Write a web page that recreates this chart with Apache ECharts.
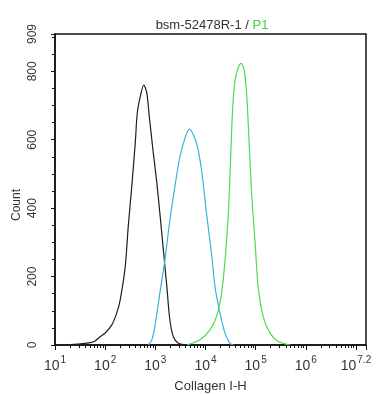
<!DOCTYPE html>
<html>
<head>
<meta charset="utf-8">
<script src="https://cdn.jsdelivr.net/npm/echarts@6/dist/echarts.min.js"></script>
<style>
html,body{margin:0;padding:0;background:#fff;}
#chart{width:380px;height:394px;}
</style>
</head>
<body>
<div id="chart"></div>
<script>
// x values are log10(Collagen I-H intensity), y values are counts
const blackX = [1.24, 1.36, 1.55, 1.70, 1.80, 1.90, 2.00, 2.13, 2.23, 2.30, 2.40, 2.46, 2.53, 2.60, 2.64, 2.70, 2.77, 2.83, 2.88, 2.96, 3.03, 3.09, 3.16, 3.23, 3.29, 3.36, 3.46, 3.63];
const blackY = [0, 2, 4, 7, 12, 24, 35, 58, 93, 132, 229, 346, 463, 590, 678, 726, 760, 737, 667, 561, 474, 386, 278, 170, 73, 24, 5, 0];
const blueX = [2.86, 2.93, 2.99, 3.09, 3.19, 3.29, 3.39, 3.49, 3.59, 3.68, 3.76, 3.84, 3.93, 4.02, 4.12, 4.19, 4.29, 4.39, 4.49, 4.56];
const blueY = [0, 15, 54, 151, 248, 365, 463, 550, 604, 631, 614, 580, 502, 385, 268, 170, 93, 34, 5, 0];
const greenX = [3.63, 3.89, 4.09, 4.22, 4.32, 4.39, 4.46, 4.50, 4.54, 4.59, 4.65, 4.71, 4.77, 4.82, 4.87, 4.92, 4.99, 5.05, 5.15, 5.29, 5.45, 5.69];
const greenY = [0, 15, 44, 83, 151, 248, 395, 541, 687, 775, 809, 823, 804, 736, 590, 443, 297, 170, 83, 34, 10, 0];

const xTickPos = [1, 2, 3, 4, 5, 6, 7];
const xTickExp = ['1', '2', '3', '4', '5', '6', '7.2'];
const xMin = 1, xMax = 7.2;
const yTicks = [0, 200, 400, 600, 800, 909];
const yMax = 909;
const yMinorStep = 50;

const titleMain = 'bsm-52478R-1 / ';
const titleGate = 'P1';
const xName = 'Collagen I-H';
const yName = 'Count';

const xMinor = [];
for (let n = 1; n < 8; n++) for (let k = 2; k <= 9; k++) { const v = n + Math.log10(k); if (v < xMax) xMinor.push(v); }
const yMinor = [];
for (let v = yMinorStep; v < yMax; v += yMinorStep) if (yTicks.indexOf(v) < 0) yMinor.push(v);

const pair = (xs, ys) => xs.map((x, i) => [x, ys[i]]);
const FONT = '"Liberation Sans Narrow", "Liberation Sans", Arial, sans-serif';
const gridRect = { left: 55, right: 14, top: 34, bottom: 49, containLabel: false, outerBoundsMode: 'none' };

const chart = echarts.init(document.getElementById('chart'));
chart.setOption({
  animation: false,
  backgroundColor: '#fff',
  title: {
    text: '{a|' + titleMain + '}{b|' + titleGate + '}',
    left: 207, top: 14, textAlign: 'center',
    textStyle: { fontWeight: 'normal', rich: {
      a: { fontFamily: FONT, fontSize: 13, fontWeight: 'normal', color: '#333' },
      b: { fontFamily: FONT, fontSize: 13, fontWeight: 'normal', color: '#3fd23f' }
    } }
  },
  graphic: [{
    type: 'text', x: 17, y: 205, rotation: Math.PI / 2,
    style: { text: yName, fontFamily: FONT, fontSize: 12, fill: '#333', align: 'center', verticalAlign: 'middle' }
  }],
  grid: [
    Object.assign({ show: true, borderColor: '#111', borderWidth: 1.5, backgroundColor: '#fff' }, gridRect),
    Object.assign({ show: false }, gridRect)
  ],
  xAxis: [{
    type: 'value', gridIndex: 0, min: xMin, max: xMax,
    name: xName, nameLocation: 'middle', nameGap: 35,
    nameTextStyle: { fontFamily: FONT, fontSize: 13, color: '#333' },
    axisLine: { show: true, lineStyle: { color: '#111', width: 1.5 } },
    axisTick: { show: true, length: 5, customValues: xTickPos.concat([xMax]), lineStyle: { color: '#111' } },
    axisLabel: {
      customValues: xTickPos, margin: 10, verticalAlign: 'top',
      formatter: v => { const i = xTickPos.indexOf(v); return '{b|10}{e|' + xTickExp[i] + '}'; },
      rich: {
        b: { fontFamily: FONT, fontSize: 14, lineHeight: 18, color: '#333', verticalAlign: 'bottom' },
        e: { fontFamily: FONT, fontSize: 10, lineHeight: 12, color: '#333', verticalAlign: 'top', padding: [0, 0, 0, 1] }
      }
    },
    splitLine: { show: false }
  }, {
    type: 'value', gridIndex: 1, min: xMin, max: xMax,
    axisLine: { show: false },
    axisTick: { show: true, length: 3, customValues: xMinor, lineStyle: { color: '#111' } },
    axisLabel: { show: false },
    splitLine: { show: false }
  }],
  yAxis: [{
    type: 'value', gridIndex: 0, min: 0, max: yMax,
    axisLine: { show: true, lineStyle: { color: '#111', width: 1.5 } },
    axisTick: { show: true, length: 4, customValues: yTicks, lineStyle: { color: '#111' } },
    axisLabel: { customValues: yTicks, rotate: 90, margin: 16, align: 'center', verticalAlign: 'bottom', fontFamily: FONT, fontSize: 12, color: '#333' },
    splitLine: { show: false }
  }, {
    type: 'value', gridIndex: 1, min: 0, max: yMax,
    axisLine: { show: false },
    axisTick: { show: true, length: 3, customValues: yMinor, lineStyle: { color: '#111' } },
    axisLabel: { show: false },
    splitLine: { show: false }
  }],
  series: [
    { type: 'line', data: pair(blackX, blackY), showSymbol: false, smooth: 0.3, lineStyle: { color: '#1e1e1e', width: 1.2 } },
    { type: 'line', data: pair(blueX, blueY), showSymbol: false, smooth: 0.3, lineStyle: { color: '#36b4dc', width: 1.2 } },
    { type: 'line', data: pair(greenX, greenY), showSymbol: false, smooth: 0.3, lineStyle: { color: '#4cdc4c', width: 1.2 } }
  ]
});
</script>
</body>
</html>
